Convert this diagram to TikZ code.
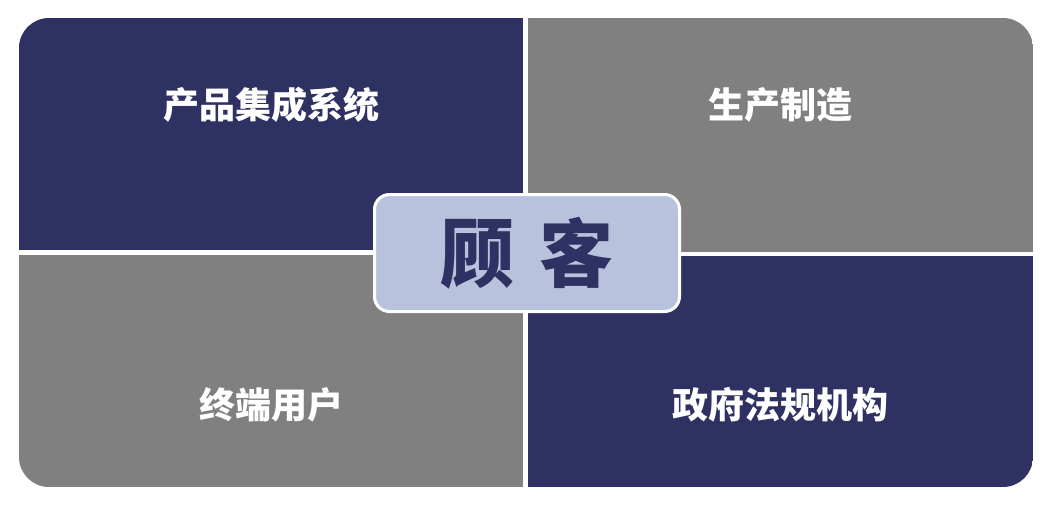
\documentclass[tikz,border=0pt]{standalone}
\usepackage{fontspec}
\newfontfamily\cjk{Noto Sans CJK SC}
\usetikzlibrary{positioning}

\definecolor{navy}{HTML}{2E3162}
\definecolor{midgray}{HTML}{808080}
\definecolor{paleblue}{HTML}{B8C2DC}

\begin{document}
\begin{tikzpicture}[x=1pt,y=-1pt]

\useasboundingbox (0,0) rectangle (1055,506);

\begin{scope}
\clip [rounded corners=30pt] (19,18) rectangle (1033,487);
\fill [navy]    (19,18)   rectangle (523,250);
\fill [midgray] (528,18)  rectangle (1033,252);
\fill [midgray] (19,255)  rectangle (523,487);
\fill [navy]    (528,256) rectangle (1033,487);
\end{scope}

%%%%%%%%%%%%%%%%%%%%%%%%%%%%%%%%%%%%%%%%%%%%%%%%%%%%%%%%%%%%%%%%

\foreach \x/\y/\name/\txt in {271/105/tl/产品集成系统,780/105/tr/生产制造,271/405/bl/终端用户,780/405/br/政府法规机构} {
	\node [text=white,font=\cjk\bfseries\fontsize{36}{40}\selectfont] at (\x,\y) (\name) {\txt};
}

\node [fill=paleblue,draw=white,line width=3pt,rounded corners=15pt,
	minimum width=305pt,minimum height=117pt,text=navy,
	font=\cjk\bfseries\fontsize{74}{80}\selectfont] at (527,253) (guke) {顾\hspace{0.35em}客};

\end{tikzpicture}
\end{document}
